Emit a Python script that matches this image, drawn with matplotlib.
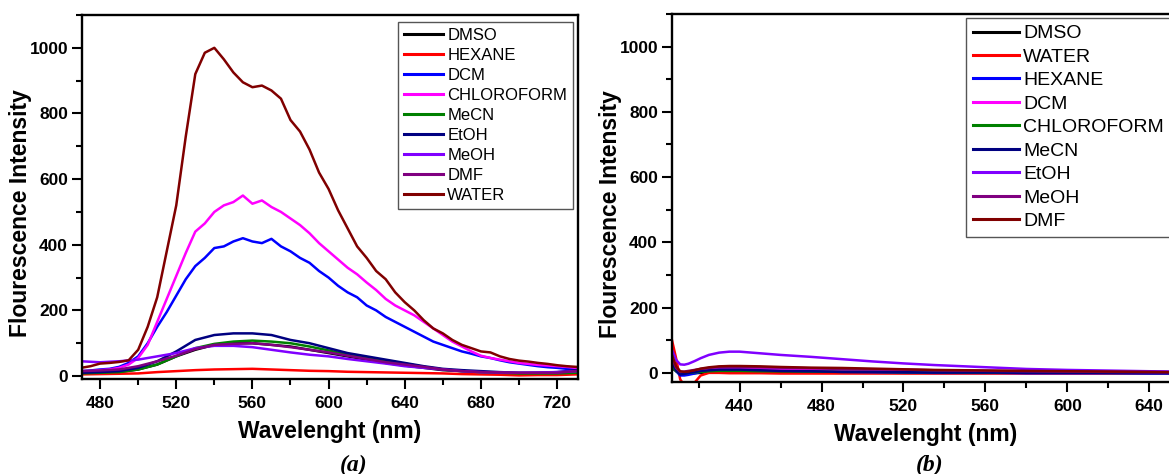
import matplotlib
matplotlib.use("Agg")
import matplotlib.pyplot as plt
import numpy as np
from matplotlib.ticker import MultipleLocator

plt.rcParams['font.family'] = ['Liberation Sans', 'DejaVu Sans']

# ---- panel (a): emission in different solvents ----
wl5 = np.arange(470, 735, 5)
wl10 = np.arange(470, 735, 10)

water_a = [25, 30, 38, 40, 43, 48, 80, 150, 240, 380, 520, 730, 920, 985, 1000, 965,
           925, 895, 880, 885, 870, 845, 780, 745, 690, 620, 570, 505, 450, 395, 360,
           320, 295, 255, 225, 200, 170, 145, 130, 110, 95, 85, 75, 72, 60, 52, 47, 44,
           40, 37, 33, 30, 28]
chloroform_a = [15, 15, 18, 20, 25, 35, 55, 95, 165, 235, 305, 375, 440, 465, 500, 520,
                530, 550, 525, 535, 515, 500, 480, 460, 435, 405, 380, 355, 330, 310,
                285, 262, 235, 215, 200, 185, 165, 145, 125, 105, 90, 75, 62, 55, 50, 45,
                40, 37, 34, 32, 30, 28, 25]
dcm_a = [15, 17, 20, 22, 28, 40, 60, 100, 150, 195, 245, 295, 335, 360, 390, 395, 410,
         420, 410, 405, 418, 395, 380, 360, 345, 320, 300, 275, 255, 240, 215, 200, 180,
         165, 150, 135, 120, 105, 95, 85, 75, 68, 60, 55, 48, 42, 38, 34, 30, 27, 25, 22,
         20]

etoh_a = [10, 12, 15, 25, 45, 75, 110, 125, 130, 130, 125, 110, 100, 85, 70, 60, 50, 40,
          30, 22, 18, 15, 12, 10, 10, 12, 18]
dmso_a = [8, 10, 12, 20, 35, 60, 80, 95, 100, 100, 95, 90, 80, 70, 60, 50, 40, 32, 25, 18,
          15, 12, 10, 8, 8, 10, 12]
mecn_a = [8, 10, 12, 20, 35, 60, 85, 98, 105, 108, 105, 100, 90, 78, 65, 55, 45, 38, 28,
          20, 15, 12, 10, 8, 8, 8, 10]
meoh_a = [45, 42, 45, 50, 60, 70, 85, 92, 92, 88, 80, 72, 65, 60, 52, 45, 38, 30, 25, 20,
          15, 12, 11, 10, 11, 12, 15]
dmf_a = [15, 17, 20, 30, 45, 62, 82, 95, 98, 100, 95, 88, 80, 72, 62, 52, 42, 35, 28, 20,
         15, 12, 11, 10, 10, 10, 15]
hexane_a = [5, 6, 7, 8, 12, 15, 18, 20, 21, 22, 20, 18, 16, 15, 13, 12, 11, 10, 9, 8, 6, 5,
            4, 2, 3, 3, 5]

# ---- panel (b): blank / reference spectra ----
wl_b = [407, 409, 411, 413, 415, 418, 421, 425, 430, 435, 440, 450, 460, 475, 490, 505,
        520, 535, 550, 565, 580, 600, 620, 640, 655]
dmso_b = [15, 5, -2, -3, -2, -1, 0, 1, 2, 2, 2, 2, 1, 1, 1, 1, 0, 0, 0, 0, 0, 0, 0, 0, 0]
water_b = [100, 45, -20, -38, -40, -30, -8, 0, 0, -1, -1, -1, -2, -2, -2, -2, -2, -2, -2,
           -2, -2, -2, -2, -2, -2]
hexane_b = [25, 5, -8, -8, -6, -2, 3, 7, 11, 12, 11, 9, 7, 5, 3, 2, 1, 0, 0, 0, -1, -1, -1,
            -2, -2]
dcm_b = [35, 12, 0, 1, 3, 6, 9, 12, 14, 14, 13, 12, 11, 10, 8, 7, 6, 5, 5, 4, 3, 3, 2, 2, 2]
chloroform_b = [20, 6, -3, -2, 0, 2, 3, 5, 6, 6, 6, 5, 5, 4, 3, 3, 2, 2, 1, 1, 1, 1, 0, 0, 0]
mecn_b = [30, 8, -5, -3, 0, 3, 6, 8, 10, 10, 10, 8, 6, 5, 3, 3, 2, 1, 1, 1, 0, 0, 0, 0, 0]
etoh_b = [70, 40, 26, 25, 28, 36, 45, 55, 62, 65, 65, 60, 55, 49, 42, 35, 29, 24, 20, 16,
          12, 9, 7, 5, 4]
meoh_b = [45, 15, 3, 4, 6, 9, 12, 15, 18, 18, 18, 17, 16, 14, 12, 11, 10, 8, 7, 6, 5, 4, 3,
          2, 2]
dmf_b = [55, 20, 5, 3, 4, 8, 13, 17, 20, 21, 21, 20, 18, 16, 15, 13, 11, 9, 8, 7, 6, 5, 4,
         3, 2]

black, red, blue, magenta = '#000000', '#ff0000', '#0000ff', '#ff00ff'
green, navy, violet, purple, wine = '#008000', '#000080', '#8000ff', '#800080', '#800000'

series_a = [
    ('DMSO', wl10, dmso_a, black),
    ('HEXANE', wl10, hexane_a, red),
    ('DCM', wl5, dcm_a, blue),
    ('CHLOROFORM', wl5, chloroform_a, magenta),
    ('MeCN', wl10, mecn_a, green),
    ('EtOH', wl10, etoh_a, navy),
    ('MeOH', wl10, meoh_a, violet),
    ('DMF', wl10, dmf_a, purple),
    ('WATER', wl5, water_a, wine),
]
series_b = [
    ('DMSO', dmso_b, black),
    ('WATER', water_b, red),
    ('HEXANE', hexane_b, blue),
    ('DCM', dcm_b, magenta),
    ('CHLOROFORM', chloroform_b, green),
    ('MeCN', mecn_b, navy),
    ('EtOH', etoh_b, violet),
    ('MeOH', meoh_b, purple),
    ('DMF', dmf_b, wine),
]

W, H = 1169, 474
fig = plt.figure(figsize=(W / 100, H / 100), dpi=100)
ax1 = fig.add_axes([82 / W, 1 - 379 / H, 496 / W, 364 / H])
ax2 = fig.add_axes([672 / W, 1 - 382 / H, 508 / W, 368 / H])

for name, x, y, c in series_a:
    ax1.plot(x, y, color=c, lw=1.8, label=name)
for name, y, c in series_b:
    ax2.plot(wl_b, y, color=c, lw=1.8, label=name)

ax1.set_xlim(470.5, 731)
ax1.set_ylim(-9, 1100)
ax2.set_xlim(407, 655)
ax2.set_ylim(-28, 1100)

for ax, w_px, h_px in ((ax1, 496, 364), (ax2, 508, 368)):
    ax.xaxis.set_major_locator(MultipleLocator(40))
    ax.xaxis.set_minor_locator(MultipleLocator(20))
    ax.yaxis.set_major_locator(MultipleLocator(200))
    ax.yaxis.set_minor_locator(MultipleLocator(100))
    ax.tick_params(which='major', direction='out', length=7, width=1.5,
                   labelsize=12.5, pad=3)
    ax.tick_params(axis='x', which='major', pad=5)
    ax.tick_params(which='minor', direction='out', length=4, width=1.5)
    for lab in ax.get_xticklabels() + ax.get_yticklabels():
        lab.set_fontweight('bold')
    for sp in ax.spines.values():
        sp.set_linewidth(1.7)
    ax.set_xlabel('Wavelenght (nm)', fontsize=16.5, fontweight='bold', labelpad=7)
    ax.set_ylabel('Flourescence Intensity', fontsize=16.5, fontweight='bold')
    # y label sits a little below the axes middle, just left of the tick labels
    ax.yaxis.set_label_coords(-50 / w_px, 0.455)

leg_kw = dict(loc='upper left', bbox_transform=fig.transFigure, borderaxespad=0,
              fancybox=False, framealpha=1, handletextpad=0.25, borderpad=0.35,
              labelspacing=0.3)
l1 = ax1.legend(bbox_to_anchor=(398 / W, 1 - 22 / H), fontsize=12, handlelength=2.35,
                **leg_kw)
l2 = ax2.legend(bbox_to_anchor=(966 / W, 1 - 18 / H), fontsize=14, handlelength=2.35,
                **leg_kw)
for leg in (l1, l2):
    leg.get_frame().set_edgecolor('#555555')
    leg.get_frame().set_linewidth(1.0)
    for h in leg.get_lines():
        h.set_linewidth(2.2)

cap_font = dict(family='Liberation Serif', fontsize=17, style='italic',
                fontweight='bold', ha='center', va='center')
fig.text(354 / W, 1 - 465 / H, '(a)', **cap_font)
fig.text(930 / W, 1 - 465 / H, '(b)', **cap_font)

fig.savefig('out.png', dpi=100)
